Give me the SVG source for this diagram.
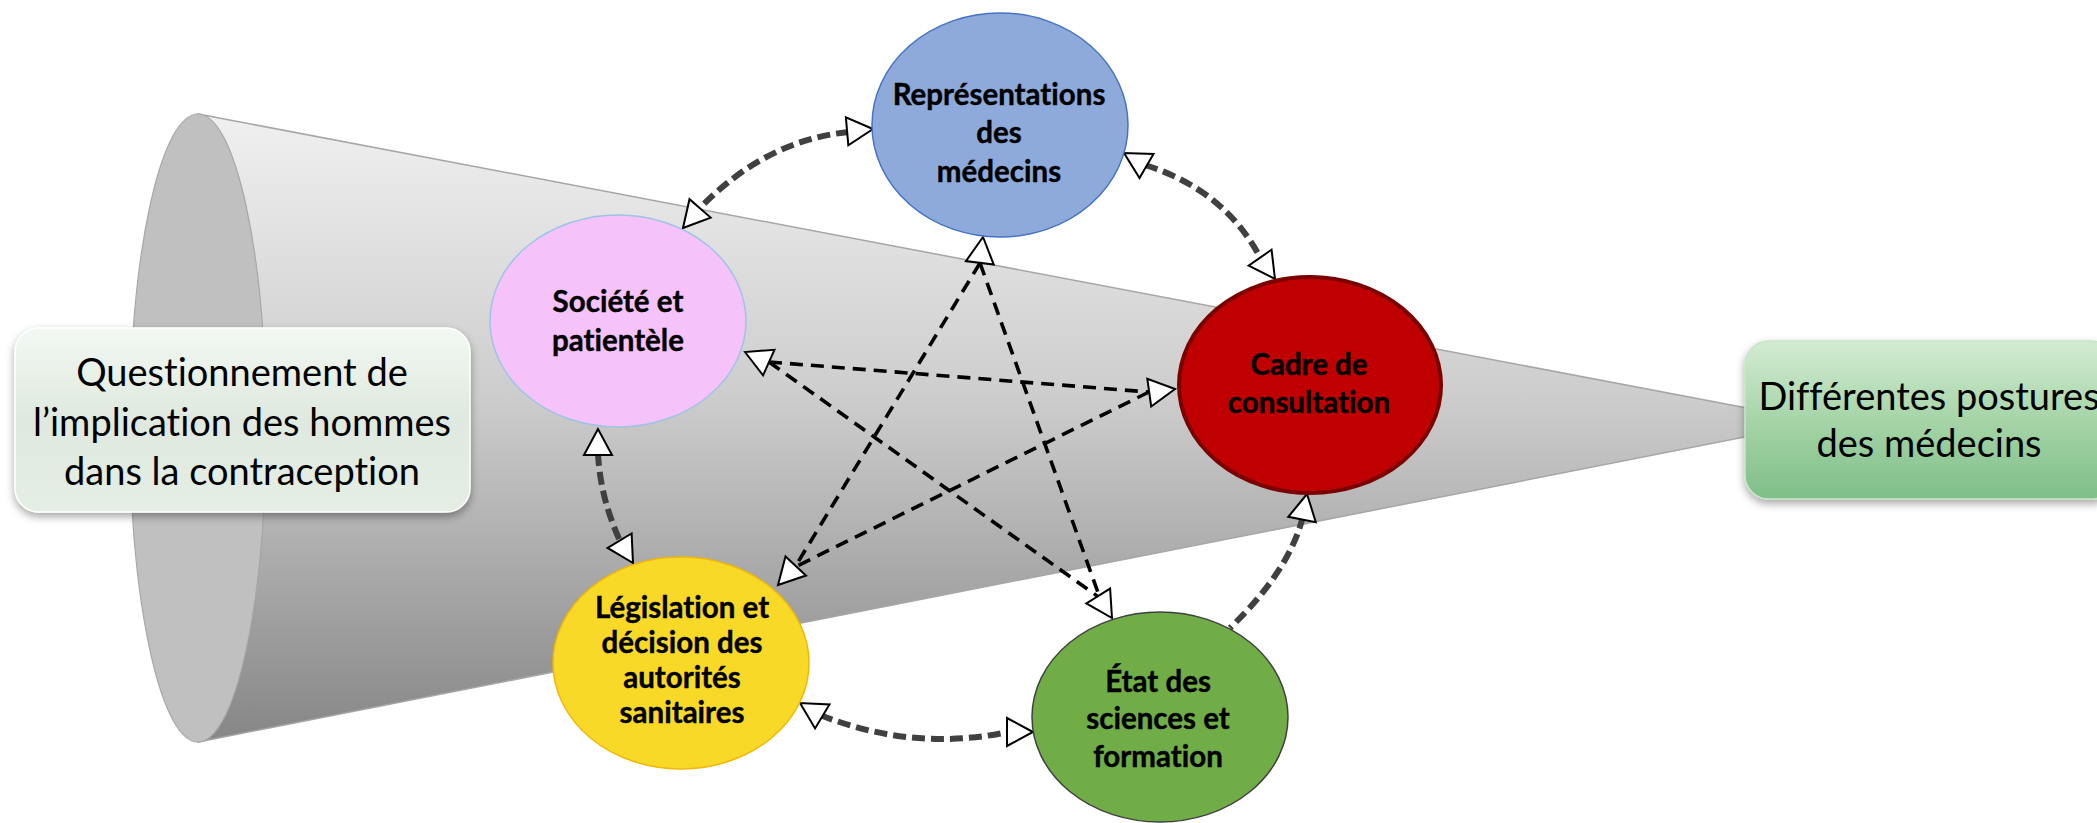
<svg xmlns="http://www.w3.org/2000/svg" xmlns:xlink="http://www.w3.org/1999/xlink" width="2097" height="823" viewBox="0 0 2097 823">
  <style>
    .node-text { font-family: Lato, "Liberation Sans", sans-serif; font-weight: bold; font-size: 29.5px; fill: #000; text-anchor: middle; stroke: #000; stroke-width: 0.4; font-variant-ligatures: none; }
    .box-text { font-family: Lato, "Open Sans", "Liberation Sans", sans-serif; font-size: 38px; fill: #000; text-anchor: middle; font-variant-ligatures: none; }
    .ring { fill: none; stroke: #404040; stroke-width: 6; stroke-dasharray: 13 6; }
    .star { fill: none; stroke: #000; stroke-width: 3.6; stroke-dasharray: 13 8; }
    .arrow { fill: #fff; stroke: #000; stroke-width: 2; stroke-linejoin: miter; }
  </style>
  <defs>
    <linearGradient id="coneGrad" gradientUnits="userSpaceOnUse" x1="0" y1="114" x2="0" y2="742">
      <stop offset="0" stop-color="#f0f0f0"/>
      <stop offset="0.45" stop-color="#cdcdcd"/>
      <stop offset="1" stop-color="#868686"/>
    </linearGradient>
    <linearGradient id="leftBoxGrad" x1="0" y1="0" x2="0" y2="1">
      <stop offset="0" stop-color="#f2f8f2"/>
      <stop offset="0.5" stop-color="#dfe9df"/>
      <stop offset="1" stop-color="#e4eee4"/>
    </linearGradient>
    <linearGradient id="rightBoxGrad" x1="0" y1="0" x2="0" y2="1">
      <stop offset="0" stop-color="#d3ecd3"/>
      <stop offset="0.5" stop-color="#a6d4a8"/>
      <stop offset="1" stop-color="#7fbf88"/>
    </linearGradient>
    <filter id="shadow" x="-10%" y="-10%" width="120%" height="130%">
      <feDropShadow dx="0" dy="4" stdDeviation="4" flood-color="#000" flood-opacity="0.35"/>
    </filter>
    <path id="tri" d="M0,0 L-26,-14 L-26,14 Z"/>
  </defs>

  <rect x="0" y="0" width="2097" height="823" fill="#fff"/>

  <g id="cone">
    <path d="M198,114 L1821,422 L198,742 Z" fill="url(#coneGrad)" stroke="#a6a6a6" stroke-width="1.5"/>
    <ellipse cx="198" cy="428" rx="68" ry="314" fill="#c0c0c0" stroke="#a6a6a6" stroke-width="1.2"/>
  </g>

  <g id="box-questionnement">
    <rect x="15" y="328" width="455" height="184" rx="24" ry="24" fill="url(#leftBoxGrad)" stroke="#ffffff" stroke-width="1.5" filter="url(#shadow)"/>
    <text class="box-text" x="242" y="386">Questionnement de</text>
    <text class="box-text" x="242" y="436">l’implication des hommes</text>
    <text class="box-text" x="242" y="485">dans la contraception</text>
  </g>

  <g id="box-postures">
    <rect x="1745" y="341" width="370" height="158" rx="24" ry="24" fill="url(#rightBoxGrad)" stroke="#c6e5c6" stroke-width="1.5" filter="url(#shadow)"/>
    <text class="box-text" x="1929" y="410">Différentes postures</text>
    <text class="box-text" x="1929" y="457">des médecins</text>
  </g>

  <g id="connectors">
    <!-- outer ring -->
    <path class="ring" d="M849,132 Q765,140 698,210"/>
    <path class="ring" d="M1145,165 Q1225,190 1261,259"/>
    <path class="ring" d="M1303,516 Q1290,570 1230,628"/>
    <path class="ring" d="M820,715 Q914,752 1008,732"/>
    <path class="ring" d="M598,453 Q600,497 620,541"/>
    <!-- inner star -->
    <path class="star" d="M980,263 L795,567"/>
    <path class="star" d="M980,263 L1100,598"/>
    <path class="star" d="M769,362 L1149,392"/>
    <path class="star" d="M769,362 L1100,598"/>
    <path class="star" d="M1149,392 L795,567"/>
    <!-- arrowheads ring -->
    <use xlink:href="#tri" class="arrow" transform="translate(873,129) rotate(-5)"/>
    <use xlink:href="#tri" class="arrow" transform="translate(683,228) rotate(131)"/>
    <use xlink:href="#tri" class="arrow" transform="translate(1124,153) rotate(210)"/>
    <use xlink:href="#tri" class="arrow" transform="translate(1275,279) rotate(55)"/>
    <use xlink:href="#tri" class="arrow" transform="translate(1307,494) rotate(-79)"/>
    <use xlink:href="#tri" class="arrow" transform="translate(800,703) rotate(211)"/>
    <use xlink:href="#tri" class="arrow" transform="translate(1033,732) rotate(0)"/>
    <use xlink:href="#tri" class="arrow" transform="translate(598,429) rotate(-90)"/>
    <use xlink:href="#tri" class="arrow" transform="translate(633,563) rotate(59)"/>
    <!-- arrowheads star -->
    <use xlink:href="#tri" class="arrow" transform="translate(983,237) rotate(-83)"/>
    <use xlink:href="#tri" class="arrow" transform="translate(1175,389) rotate(-8)"/>
    <use xlink:href="#tri" class="arrow" transform="translate(1112,618) rotate(58)"/>
    <use xlink:href="#tri" class="arrow" transform="translate(745,352) rotate(204)"/>
    <use xlink:href="#tri" class="arrow" transform="translate(778,585) rotate(133)"/>
  </g>

  <g id="node-representations">
    <ellipse cx="1000" cy="125" rx="128" ry="112" fill="#8eaadb" stroke="#4472c4" stroke-width="1.5"/>
    <text class="node-text" x="999" y="105">Représentations</text>
    <text class="node-text" x="999" y="143">des</text>
    <text class="node-text" x="999" y="182">médecins</text>
  </g>

  <g id="node-societe">
    <ellipse cx="618" cy="321" rx="128" ry="106" fill="#f5c3fa" stroke="#9dc3e6" stroke-width="1.5"/>
    <text class="node-text" x="618" y="312">Société et</text>
    <text class="node-text" x="618" y="351">patientèle</text>
  </g>

  <g id="node-cadre">
    <ellipse cx="1310" cy="385" rx="131" ry="108" fill="#c00000" stroke="#7b0000" stroke-width="4"/>
    <text class="node-text" x="1309" y="375">Cadre de</text>
    <text class="node-text" x="1309" y="413">consultation</text>
  </g>

  <g id="node-legislation">
    <ellipse cx="681" cy="663" rx="128" ry="106" fill="#f8d928" stroke="#f2b700" stroke-width="1.5"/>
    <text class="node-text" x="682" y="618">Législation et</text>
    <text class="node-text" x="682" y="653">décision des</text>
    <text class="node-text" x="682" y="688">autorités</text>
    <text class="node-text" x="682" y="723">sanitaires</text>
  </g>

  <g id="node-etat">
    <ellipse cx="1160" cy="717" rx="128" ry="105" fill="#70ad47" stroke="#404040" stroke-width="1.5"/>
    <text class="node-text" x="1158" y="692">État des</text>
    <text class="node-text" x="1158" y="729">sciences et</text>
    <text class="node-text" x="1158" y="767">formation</text>
  </g>
</svg>
